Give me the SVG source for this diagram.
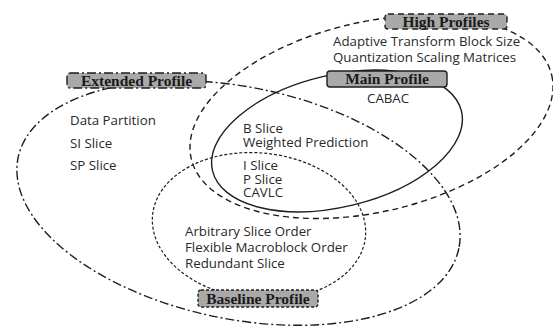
<svg xmlns="http://www.w3.org/2000/svg" width="553" height="327" viewBox="0 0 553 327">
<style>
.ell{fill:none;stroke:#1e1e1e;stroke-width:1.4}
.high{stroke-dasharray:6 4}
.main{}
.ext{stroke-dasharray:9 3 2 3}
.base{stroke-dasharray:3 2;stroke-width:1.2}
.box{fill:#a9a9a9;stroke:#1e1e1e;stroke-width:1.4}
.lbl{font-family:"Liberation Serif","Times New Roman",serif;font-weight:bold;font-size:15.5px;fill:#1a1a1a;text-anchor:middle}
.ft{font-family:"Open Sans","DejaVu Sans",sans-serif;font-size:13.3px;fill:#2a2a2a}
</style>
<rect width="553" height="327" fill="#ffffff"/>
<g id="connectors">
<ellipse class="ell ext" cx="238.5" cy="203" rx="225" ry="116" transform="rotate(11.6 238.5 203)"/>
<ellipse class="ell high" cx="371.5" cy="117" rx="185" ry="95" transform="rotate(-13 371.5 117)"/>
<ellipse class="ell main" cx="337" cy="141" rx="128" ry="66" transform="rotate(-13.5 337 141)"/>
<ellipse class="ell base" cx="259" cy="226" rx="107" ry="73" transform="rotate(6 259 226)"/>
</g>
<g id="high-profiles">
<rect class="box high" x="385" y="14" width="122" height="15" rx="3"/>
<text class="lbl" x="446" y="27">High Profiles</text>
<text class="ft" x="333" y="46">Adaptive Transform Block Size</text>
<text class="ft" x="333" y="62">Quantization Scaling Matrices</text>
</g>
<g id="main-profile">
<rect class="box" x="327" y="71" width="120" height="16" rx="3"/>
<text class="lbl" x="387" y="84">Main Profile</text>
<text class="ft" x="367" y="103">CABAC</text>
<text class="ft" x="243" y="133">B Slice</text>
<text class="ft" x="243" y="147">Weighted Prediction</text>
</g>
<g id="extended-profile">
<rect class="box ext" x="67" y="73" width="139" height="15" rx="3"/>
<text class="lbl" x="136.5" y="86">Extended Profile</text>
<text class="ft" x="70" y="125">Data Partition</text>
<text class="ft" x="70" y="148">SI Slice</text>
<text class="ft" x="70" y="170">SP Slice</text>
</g>
<g id="common">
<text class="ft" x="243" y="170">I Slice</text>
<text class="ft" x="243" y="183.5">P Slice</text>
<text class="ft" x="243" y="197">CAVLC</text>
</g>
<g id="baseline-profile">
<rect class="box base" x="198" y="290" width="120" height="17" rx="3"/>
<text class="lbl" x="258" y="304">Baseline Profile</text>
<text class="ft" x="185" y="236">Arbitrary Slice Order</text>
<text class="ft" x="185" y="252">Flexible Macroblock Order</text>
<text class="ft" x="185" y="268">Redundant Slice</text>
</g>
</svg>
